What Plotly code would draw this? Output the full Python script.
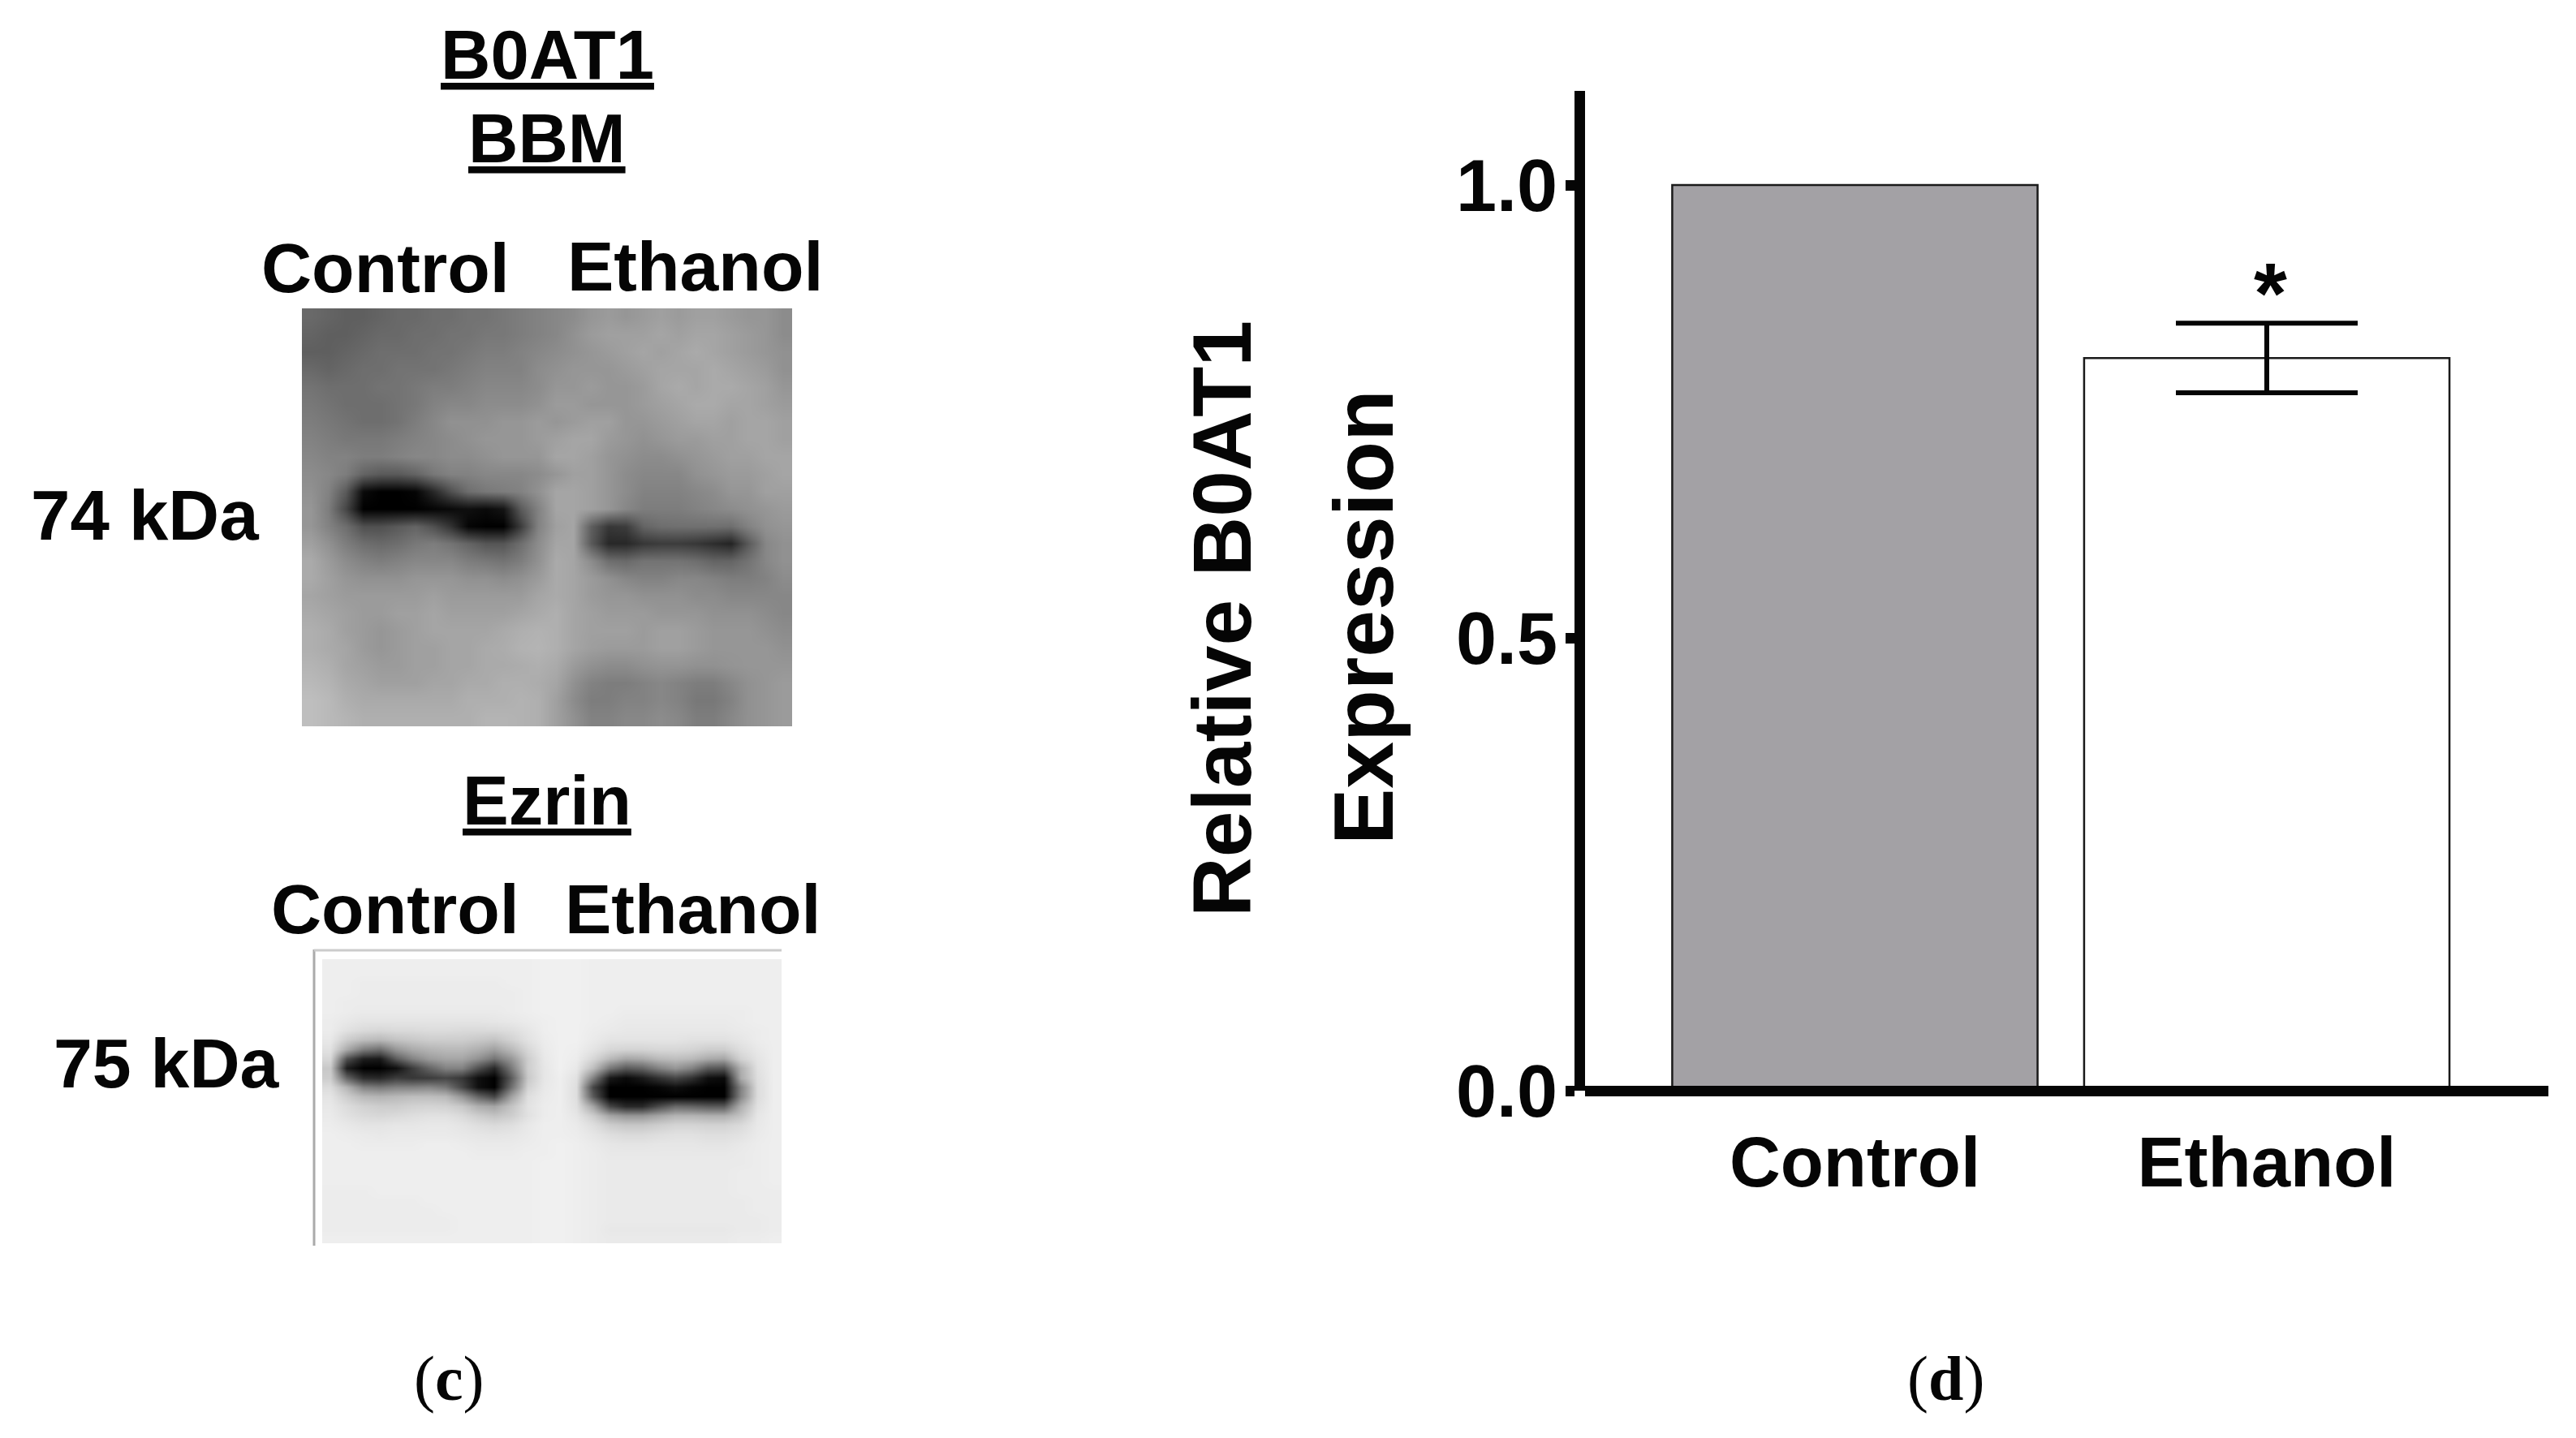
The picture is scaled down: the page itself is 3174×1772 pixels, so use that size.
import plotly.graph_objects as go

W, H = 3174, 1772
groups = ["Control", "Ethanol"]
control_value = 1.0
ethanol_value = 0.809
ethanol_error = 0.0385
control_fill = "#a3a1a5"
ethanol_fill = "#ffffff"
y_ticks = [0.0, 0.5, 1.0]
y_ticktext = ["0.0", "0.5", "1.0"]

blot_bbm = [
[105,100,95,95,100,105,105,110,110,115,115,120,125,130,135,140,150,155,150,155,160,155,160,160,155,150,150,140],
[100,95,95,100,105,105,110,110,115,115,120,120,125,130,135,145,155,160,160,160,165,160,165,165,160,155,150,140],
[95,95,100,105,110,110,110,115,115,120,125,125,130,135,140,145,150,155,160,165,160,165,170,165,160,155,150,145],
[105,100,105,110,110,115,115,115,120,125,130,130,130,140,145,150,150,150,155,160,165,165,165,170,165,160,155,145],
[115,110,110,110,115,115,120,125,125,130,135,135,135,140,150,150,155,150,150,155,165,170,165,170,170,165,160,150],
[120,115,110,110,110,115,120,130,135,135,140,140,140,145,155,155,150,150,150,155,160,165,170,170,165,165,160,155],
[125,120,115,110,110,115,125,135,145,145,145,150,150,155,150,155,160,160,150,150,155,160,165,165,160,165,165,160],
[130,125,120,120,120,125,130,135,140,145,150,150,150,155,160,165,165,155,150,145,150,155,155,160,160,165,165,160],
[135,130,130,125,125,130,135,135,140,140,145,150,150,150,165,165,160,150,145,140,140,145,150,155,160,160,165,165],
[140,135,125,100,90,90,100,120,130,130,135,135,135,140,150,160,160,150,140,135,135,135,145,150,155,155,160,165],
[145,130,90,10,0,0,5,40,80,110,120,125,130,145,165,165,160,150,140,130,130,130,135,140,150,150,160,160],
[150,125,70,0,0,0,0,5,10,15,10,20,90,130,165,165,160,150,135,125,125,125,130,135,140,145,150,155],
[150,130,110,80,80,90,100,80,50,5,0,0,60,130,160,165,95,55,60,100,110,112,112,112,110,130,145,150],
[160,145,125,110,105,110,120,125,115,100,85,85,110,140,165,165,90,40,40,55,60,60,55,45,35,90,135,145],
[170,155,140,130,125,130,135,135,135,125,120,115,125,145,170,165,140,110,105,115,115,115,110,100,100,115,135,145],
[170,160,150,145,145,145,150,150,150,145,145,140,145,155,170,165,155,145,135,130,130,135,135,130,125,125,130,140],
[165,160,155,155,155,155,155,160,155,155,155,155,155,165,170,165,155,150,150,145,145,145,140,140,135,135,135,135],
[170,165,160,155,155,160,160,165,160,160,160,160,165,170,175,165,160,155,155,155,150,150,150,145,145,145,140,135],
[175,170,160,155,150,155,160,165,165,165,165,170,175,178,175,165,160,160,160,155,160,160,155,150,150,150,145,140],
[175,170,165,155,150,155,160,160,165,165,170,172,178,180,175,165,158,155,155,155,160,160,155,150,150,150,150,145],
[180,175,165,160,155,155,160,160,165,165,170,170,172,175,170,155,145,140,140,145,148,148,145,145,148,150,150,150],
[185,180,170,165,160,160,160,165,165,170,170,175,175,172,165,145,130,125,125,130,135,130,125,125,135,145,150,155],
[190,185,175,170,170,170,170,170,170,175,175,175,178,175,160,140,125,125,130,130,135,130,120,120,130,145,150,155],
[190,185,180,175,175,175,175,175,175,175,180,180,178,175,160,145,130,130,135,135,140,135,125,125,135,145,150,155],
]

blot_ezrin = [
[238,238,238,238,238,238,238,238,238,238,238,238,238,240,240,240,238,238,238,238,238,238,238,238,238,238,238,238],
[238,238,238,238,238,238,238,238,238,238,238,238,238,240,240,240,238,238,238,238,238,238,238,238,238,238,238,238],
[238,238,236,236,236,236,236,236,236,236,236,238,238,240,240,240,238,238,238,238,238,238,238,238,238,238,238,238],
[238,238,236,236,236,236,236,236,236,236,236,236,238,240,240,240,238,238,238,238,238,238,238,238,238,238,238,238],
[238,236,236,236,236,236,236,236,236,236,236,236,238,240,240,240,238,238,238,238,238,238,238,238,238,238,238,238],
[238,236,234,234,234,234,234,234,234,234,234,236,238,240,240,240,238,238,236,236,236,236,236,236,236,236,238,238],
[236,232,228,228,228,228,228,228,228,228,230,232,235,238,240,240,238,236,234,234,234,234,234,234,234,236,238,238],
[236,225,218,215,218,218,220,220,218,218,218,222,230,238,240,240,236,234,232,232,232,232,232,232,232,234,236,238],
[232,205,190,185,195,200,205,205,205,200,195,210,226,236,240,240,234,228,228,228,228,228,225,225,225,230,236,238],
[225,170,125,110,150,170,180,185,185,175,160,185,215,234,240,238,228,215,212,212,215,215,212,205,205,222,232,238],
[215,80,30,25,90,130,155,165,165,145,115,150,205,232,240,236,215,185,165,170,185,190,185,170,165,210,228,238],
[200,30,0,0,15,60,100,130,130,80,40,120,205,230,240,232,190,120,90,100,130,150,130,90,85,175,225,238],
[205,100,45,40,60,55,60,70,55,15,0,90,200,230,238,225,130,25,10,25,50,70,50,15,10,170,222,238],
[220,180,130,120,130,130,135,120,70,15,0,110,210,232,238,222,70,0,0,0,5,15,5,0,0,130,220,238],
[228,205,185,180,185,190,190,185,150,100,70,160,222,234,238,222,90,0,0,0,0,0,0,0,0,135,220,238],
[232,220,210,205,205,210,212,210,200,175,165,195,226,236,238,225,165,70,40,40,75,105,100,90,90,175,225,238],
[234,225,218,215,218,222,225,225,218,205,195,205,225,236,238,230,205,165,150,150,165,180,180,175,175,195,230,238],
[236,232,228,228,230,230,232,232,228,222,218,222,232,238,238,234,222,205,198,198,205,212,212,210,210,218,232,238],
[238,236,234,232,234,234,234,234,232,230,228,230,234,238,238,236,230,222,218,218,222,225,225,222,222,226,234,238],
[238,238,236,236,236,236,238,238,236,234,234,234,236,238,240,238,234,230,228,228,230,230,230,228,228,232,236,238],
[238,238,238,238,238,238,238,238,238,236,236,236,238,238,240,238,236,232,232,232,232,232,232,232,232,234,236,238],
[238,238,238,238,238,238,238,238,238,238,238,238,238,240,240,238,236,234,234,234,234,234,234,234,234,234,236,238],
[238,238,238,238,238,238,238,238,238,238,238,238,238,240,240,238,236,234,234,234,234,234,234,234,234,236,236,238],
[238,238,238,238,238,238,238,238,238,238,238,238,238,240,240,238,236,234,234,234,234,234,234,234,234,236,236,238],
[236,236,236,238,238,238,238,238,238,238,238,238,238,240,240,238,236,234,234,234,234,234,234,234,234,236,236,236],
[236,236,236,236,236,236,238,238,238,238,238,238,238,240,240,238,236,234,234,234,234,234,234,234,234,234,236,236],
[236,236,236,236,236,236,236,238,238,238,238,238,238,240,240,238,236,234,234,234,234,234,234,234,234,234,236,236],
[236,236,236,236,236,236,236,236,238,238,238,238,238,240,240,238,236,234,234,234,234,234,234,234,234,234,234,236],
[236,236,236,236,236,236,236,236,238,238,238,238,238,240,240,238,236,232,232,232,232,232,232,232,232,234,234,236],
[238,238,238,238,238,238,238,238,238,238,238,238,238,240,240,238,236,234,234,234,234,234,234,234,234,236,236,238],
]

SANS = "Liberation Sans"
SERIF = "Liberation Serif"
BLACK = "#050505"
def fx(v): return v / W
def fy(v): return 1 - v / H

# pixel layout of the three panels
BAR_L, BAR_R, BAR_B, BAR_T = 1953, 3140, 1344, 112
CAT0, CAT_STEP = 2285.5, 507.5
UNIT = 1116.0

fig = go.Figure()
edge = dict(color="#1a1a1a", width=2.5)
fig.add_trace(go.Bar(x=[0], y=[control_value], width=0.887,
                     marker=dict(color=control_fill, line=edge),
                     xaxis="x", yaxis="y", showlegend=False, hoverinfo="skip"))
fig.add_trace(go.Bar(x=[1], y=[ethanol_value], width=0.887,
                     marker=dict(color=ethanol_fill, line=edge),
                     error_y=dict(type="data", array=[ethanol_error], visible=True,
                                  color=BLACK, thickness=6, width=112),
                     xaxis="x", yaxis="y", showlegend=False, hoverinfo="skip"))
gray = [[0, "#000000"], [1, "#ffffff"]]
fig.add_trace(go.Heatmap(z=blot_bbm, zmin=0, zmax=255, colorscale=gray, showscale=False,
                         zsmooth="best", xaxis="x2", yaxis="y2", hoverinfo="skip"))
fig.add_trace(go.Heatmap(z=blot_ezrin, zmin=0, zmax=255, colorscale=gray, showscale=False,
                         zsmooth="best", xaxis="x3", yaxis="y3", hoverinfo="skip"))

def hidden(lo, hi, n, rev=False):
    rng = [n - 0.5, -0.5] if rev else [-0.5, n - 0.5]
    return dict(domain=[lo, hi], range=rng, visible=False, fixedrange=True)

fig.update_layout(
    width=W, height=H, margin=dict(l=0, r=0, t=0, b=0, autoexpand=False), autosize=False,
    paper_bgcolor="white", plot_bgcolor="rgba(0,0,0,0)", barmode="overlay",
    font=dict(family=SANS, color=BLACK),
    xaxis=dict(
        domain=[fx(BAR_L), fx(BAR_R)],
        range=[(BAR_L - CAT0) / CAT_STEP, (BAR_R - CAT0) / CAT_STEP],
        tickvals=[0, 1], ticktext=groups, ticks="", showgrid=False, zeroline=False,
        showline=True, linecolor=BLACK, linewidth=13,
        anchor="free", position=fy(BAR_B),
        tickfont=dict(family=SANS, size=87, color=BLACK, weight="bold"),
        ticklabelstandoff=7,
    ),
    yaxis=dict(
        domain=[fy(BAR_B), fy(BAR_T)],
        range=[0, (BAR_B - BAR_T) / UNIT],
        tickvals=y_ticks, ticktext=y_ticktext, ticks="outside", ticklen=11, tickwidth=13,
        tickcolor=BLACK, showgrid=False, zeroline=False,
        showline=True, linecolor=BLACK, linewidth=13,
        tickfont=dict(family=SANS, size=90, color=BLACK, weight="bold"),
        ticklabelstandoff=-8,
    ),
    xaxis2=hidden(fx(372), fx(976), 28),
    yaxis2=hidden(fy(895), fy(380), 24, rev=True),
    xaxis3=hidden(fx(397), fx(963), 28),
    yaxis3=hidden(fy(1532), fy(1182), 30, rev=True),
)
for a in ("xaxis2", "xaxis3"):
    fig.layout[a].anchor = "y" + a[-1]
for a in ("yaxis2", "yaxis3"):
    fig.layout[a].anchor = "x" + a[-1]

# thin scan edges round the Ezrin blot
fig.add_shape(type="line", xref="paper", yref="paper", x0=fx(387), x1=fx(387), y0=fy(1170), y1=fy(1535),
              line=dict(color="#aaaaaa", width=3))
fig.add_shape(type="line", xref="paper", yref="paper", x0=fx(387), x1=fx(963), y0=fy(1171), y1=fy(1171),
              line=dict(color="#cccccc", width=3))

def label(text, x, y, size, family=SANS, angle=0):
    fig.add_annotation(text=text, xref="paper", yref="paper", x=fx(x), y=fy(y), showarrow=False,
                       xanchor="center", yanchor="middle", textangle=angle,
                       font=dict(family=family, size=size, color=BLACK))

label("<b><u>B0AT1</u></b>", 674, 68, 85)
label("<b><u>BBM</u></b>", 674, 170, 85)
label("<b>Control</b>", 475, 330, 86)
label("<b>Ethanol</b>", 856, 328, 86)
label("<b>74 kDa</b>", 178, 635, 87)
label("<b><u>Ezrin</u></b>", 674, 986, 85)
label("<b>Control</b>", 487, 1120, 86)
label("<b>Ethanol</b>", 853, 1120, 86)
label("<b>75 kDa</b>", 205, 1310, 86)
label("(<b>c</b>)", 553, 1698, 78, family=SERIF)
label("(<b>d</b>)", 2397, 1698, 78, family=SERIF)
label("<b>Relative B0AT1</b>", 1506, 763, 102, angle=-90)
label("<b>Expression</b>", 1680, 760, 104, angle=-90)
label("<b>*</b>", 2797, 361, 105)

fig.write_html("out.html", config=dict(displayModeBar=False),
               post_script="document.body.style.margin='0';document.body.style.overflow='hidden';")
